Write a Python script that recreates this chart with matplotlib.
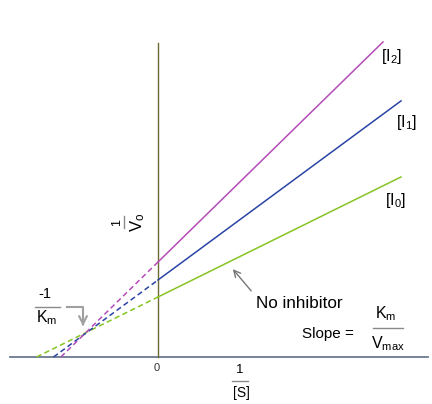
import matplotlib
matplotlib.use('Agg')
from matplotlib import pyplot as plt
import numpy as np

plt.rcParams['font.family'] = ['Liberation Sans', 'DejaVu Sans']
plt.rcParams['mathtext.fontset'] = 'custom'
plt.rcParams['mathtext.rm'] = 'Liberation Sans'
plt.rcParams['mathtext.it'] = 'Liberation Sans'

# Lineweaver-Burk lines: 1/v = slope * (1/[S]) + intercept
labels = ['[I$_0$]', '[I$_1$]', '[I$_2$]']
intercepts = [0.60, 0.77, 0.95]
slopes = [0.494, 0.737, 0.978]
x_ends = [2.43, 2.43, 2.25]
colors = ['#86c424', '#2a44a4', '#b44cb8']
label_pos = [(2.38, 1.57), (2.49, 2.35), (2.34, 3.01)]

fig = plt.figure(figsize=(4.32, 4.04), dpi=100)
ax = fig.add_axes([0, 0, 1, 1])
ax.set_xlim(-1.58, 2.74)
ax.set_ylim(-0.47, 3.57)
ax.axis('off')

# axes
ax.plot([-1.48, 2.70], [0, 0], color='#6a7890', lw=1.3, zorder=1)
ax.plot([0, 0], [0, 3.14], color='#6e6a34', lw=1.0, zorder=1)

for b, m, xe, c, lab, (lx, ly) in zip(intercepts, slopes, x_ends, colors, labels, label_pos):
    x0 = -b / m
    ax.plot([0, xe], [b, m * xe + b], color=c, lw=1.1, zorder=3)
    ax.plot([x0, 0], [0, b], color=c, lw=1.1, ls=(0, (3.5, 2.2)), zorder=3)
    ax.text(lx, ly, lab, ha='center', va='center', fontsize=11.5)

bar = '#8a8a8a'

# 1/V0 (rotated)
ax.text(-0.41, 1.35, '1', rotation=90, ha='center', va='center', fontsize=9)
ax.plot([-0.335, -0.335], [1.29, 1.41], color=bar, lw=1)
ax.text(-0.205, 1.35, 'V$_o$', rotation=90, ha='center', va='center', fontsize=12)

# -1/Km
ax.text(-1.13, 0.59, '-1', ha='center', va='baseline', fontsize=10.5)
ax.plot([-1.23, -0.98], [0.50, 0.50], color=bar, lw=1)
ax.text(-1.11, 0.35, 'K$_m$', ha='center', va='baseline', fontsize=11.5)
ax.plot([-0.91, -0.75, -0.75], [0.50, 0.50, 0.33], color='#a0a0a0', lw=1.5)
ax.annotate('', xy=(-0.75, 0.28), xytext=(-0.75, 0.36),
            arrowprops=dict(arrowstyle='->', color='#a0a0a0', lw=1.5,
                            mutation_scale=14))

# No inhibitor
ax.text(0.98, 0.49, 'No inhibitor', ha='left', va='baseline', fontsize=12.3)
ax.annotate('', xy=(0.73, 0.90), xytext=(0.95, 0.64),
            arrowprops=dict(arrowstyle='->', color='#777777', lw=1.0,
                            mutation_scale=12))

# Slope = Km / Vmax
ax.text(1.44, 0.19, 'Slope =', ha='left', va='baseline', fontsize=11)
ax.text(2.28, 0.39, 'K$_m$', ha='center', va='baseline', fontsize=11.5)
ax.plot([2.15, 2.45], [0.29, 0.29], color=bar, lw=1)
ax.text(2.30, 0.09, 'V$_{max}$', ha='center', va='baseline', fontsize=11.5)

# x labels
ax.text(-0.01, -0.11, '0', ha='center', va='center', fontsize=8, color='#333333')
ax.text(0.82, -0.13, '1', ha='center', va='center', fontsize=9.5)
ax.plot([0.74, 0.90], [-0.24, -0.24], color=bar, lw=1)
ax.text(0.83, -0.36, '[S]', ha='center', va='center', fontsize=10)

fig.savefig('out.png', dpi=100)
